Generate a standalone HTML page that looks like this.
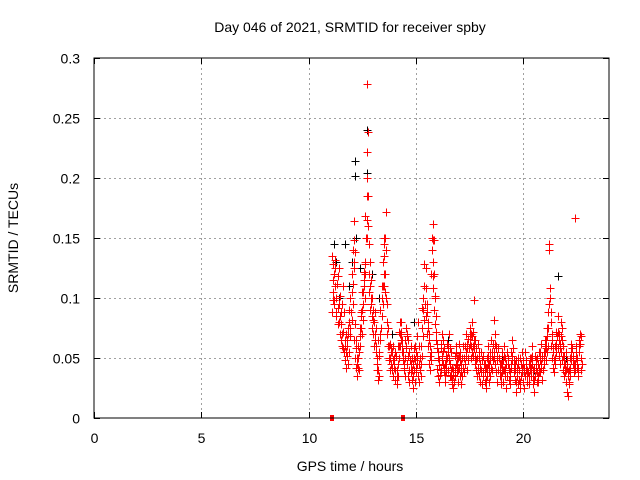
<!DOCTYPE html>
<html><head><meta charset="utf-8"><style>
body{margin:0;background:#fff}
svg{display:block;font-family:"Liberation Sans",sans-serif;font-size:14px}
</style></head><body>
<svg id="chart" width="640" height="480" viewBox="0 0 640 480">
<rect width="640" height="480" fill="#fff"/>
<text x="350" y="32" text-anchor="middle">Day 046 of 2021, SRMTID for receiver spby</text>
<text x="350" y="471" text-anchor="middle">GPS time / hours</text>
<text transform="translate(18,238) rotate(-90)" text-anchor="middle">SRMTID / TECUs</text>
<g id="grid"></g><g id="ticks"></g><g id="black"></g><g id="red"></g>
<rect x="94" y="58" width="515" height="360" fill="none" stroke="#000" stroke-width="1"/>
</svg>
<script>
const xTicks=[0,5,10,15,20];
const yTicks=[0,0.05,0.1,0.15,0.2,0.25,0.3];
const yTickLabels=["0","0.05","0.1","0.15","0.2","0.25","0.3"];
const redHours=[11.10,11.15,11.20,11.25,11.30,11.35,11.40,11.45,11.50,11.55,11.60,11.65,11.70,11.75,11.80,11.85,11.90,11.95,12.00,12.05,12.10,12.15,12.20,12.25,12.30,12.35,12.40,12.45,12.50,12.55,12.60,12.65,12.70,12.75,12.80,12.85,12.90,12.95,13.00,13.05,13.10,13.15,13.20,13.25,13.30,13.35,13.40,13.45,13.50,13.55,13.60,13.65,13.70,13.75,13.80,13.85,13.90,13.95,14.00,14.05,14.10,14.15,14.20,14.25,14.30,14.35,14.40,14.45,14.50,14.55,14.60,14.65,14.70,14.75,14.80,14.85,14.90,14.95,15.00,15.05,15.10,15.15,15.20,15.25,15.30,15.35,15.40,15.45,15.50,15.55,15.60,15.65,15.70,15.75,15.80,15.85,15.90,15.95,
16.00,16.05,16.10,16.15,16.20,16.25,16.30,16.35,16.40,16.45,16.50,16.55,16.60,16.65,16.70,16.75,16.80,16.85,16.90,16.95,17.00,17.05,17.10,17.15,17.20,17.25,17.30,17.35,17.40,17.45,17.50,17.55,17.60,17.65,17.70,17.75,17.80,17.85,17.90,17.95,18.00,18.05,18.10,18.15,18.20,18.25,18.30,18.35,18.40,18.45,18.50,18.55,18.60,18.65,18.70,18.75,18.80,18.85,18.90,18.95,19.00,19.05,19.10,19.15,19.20,19.25,19.30,19.35,19.40,19.45,19.50,19.55,19.60,19.65,19.70,19.75,19.80,19.85,19.90,19.95,20.00,20.05,20.10,20.15,20.20,20.25,20.30,20.35,20.40,20.45,20.50,20.55,20.60,20.65,20.70,20.75,20.80,20.85,20.90,20.95,21.00,21.05,21.10,21.15,21.20,21.25,21.30,21.35,21.40,21.45,21.50,21.55,21.60,21.65,21.70,21.75,21.80,21.85,21.90,21.95,22.00,22.05,22.10,22.15,22.20,22.25,22.30,22.35,22.40,22.45,22.50,22.55,22.60,22.65,22.70,
12.70,12.70,12.10,13.50,12.65,11.12,15.80];
const redValuesA=[.135,.128,.120,.110,.100,.118,.125,.085,.078,.095,.110,.088,.060,.055,.052,.070,.090,.100,.120,.140,.164,.138,.065,.050,.042,.040,.060,.075,.090,.105,.122,.168,.278,.238,.145,.130,.115,.100,.090,.080,.070,.060,.050,.040,.035,.065,.085,.110,.135,.150,.172,.095,.075,.060,.050,.045,.055,.060,.050,.040,.035,.045,.060,.070,.080,.065,.055,.045,.050,.060,.070,.065,.055,.045,.040,.035,.050,.060,.055,.045,.035,.030,.040,.060,.075,.090,.110,.125,.095,.080,.070,.060,.055,.140,.162,.120,.100,.085,
.062,.055,.048,.040,.052,.065,.058,.045,.038,.050,.060,.070,.045,.035,.028,.040,.052,.045,.038,.050,.062,.055,.045,.035,.042,.050,.060,.070,.058,.048,.062,.070,.080,.072,.098,.065,.058,.050,.040,.035,.045,.055,.048,.038,.030,.042,.050,.060,.045,.035,.042,.055,.062,.082,.070,.060,.048,.040,.035,.045,.055,.048,.040,.035,.045,.055,.050,.042,.035,.045,.052,.045,.040,.048,.035,.028,.040,.050,.045,.038,.030,.042,.055,.048,.035,.028,.040,.050,.045,.035,.042,.052,.048,.038,.030,.042,.055,.062,.050,.045,.055,.065,.075,.088,.145,.108,.080,.065,.055,.048,.060,.072,.085,.070,.062,.055,.048,.040,.035,.045,.055,.048,.038,.030,.042,.055,.050,.045,.167,.060,.050,.042,.055,.062,.050,
.185,.165,.148,.145,.128,.098,.148];
const redValuesB=[.088,.115,.098,.125,.085,.092,.080,.070,.065,.060,.072,.055,.048,.070,.065,.045,.080,.075,.082,.095,.065,.050,.042,.035,.060,.055,.075,.085,.105,.095,.110,.130,.222,.185,.120,.090,.100,.085,.070,.060,.088,.075,.040,.065,.055,.090,.110,.130,.150,.120,.100,.080,.060,.050,.062,.055,.040,.035,.045,.032,.028,.060,.072,.080,.065,.055,.048,.040,.065,.075,.045,.035,.030,.060,.050,.025,.040,.030,.042,.068,.080,.060,.050,.045,.092,.100,.128,.085,.070,.060,.045,.040,.120,.150,.130,.090,.078,.065,
.041,.035,.030,.058,.070,.045,.038,.030,.052,.062,.040,.048,.035,.055,.042,.025,.035,.060,.050,.030,.042,.035,.028,.050,.060,.038,.045,.052,.040,.066,.075,.050,.055,.060,.065,.045,.040,.035,.062,.050,.030,.040,.028,.052,.045,.025,.035,.045,.030,.055,.065,.040,.048,.050,.045,.038,.030,.058,.045,.028,.038,.030,.060,.050,.025,.035,.045,.032,.028,.055,.065,.038,.032,.022,.042,.050,.032,.025,.035,.055,.045,.025,.035,.040,.030,.045,.050,.035,.060,.028,.022,.035,.040,.030,.045,.055,.038,.042,.032,.055,.065,.048,.055,.060,.140,.100,.060,.050,.042,.038,.050,.062,.058,.052,.045,.080,.075,.060,.052,.038,.030,.022,.018,.040,.050,.062,.045,.038,.040,.050,.042,.035,.065,.070,.040,
.165,.150,.130,.110,.120,.105,.118];
const redValuesC=[.105,.095,.132,.088,.112,.078,.095,.102,.088,.070,.058,.065,.042,.060,.075,.055,.068,.088,.105,.112,.125,.078,.058,.045,.050,.068,.088,.070,.082,.115,.100,.150,.200,.160,.105,.110,.095,.075,.082,.065,.055,.045,.032,.052,.070,.075,.100,.095,.120,.105,.140,.070,.048,.040,.058,.042,.048,.042,.055,.052,.040,.035,.050,.060,.072,.060,.042,.035,.058,.068,.052,.040,.048,.038,.032,.045,.058,.048,.038,.052,.045,.040,.035,.052,.068,.082,.095,.108,.088,.075,.065,.052,.048,.108,.148,.102,.072,.058,
.050,.044,.036,.062,.048,.056,.042,.036,.045,.055,.050,.058,.040,.032,.036,.030,.042,.054,.044,.040,.052,.048,.038,.042,.050,.045,.055,.062,.050,.058,.068,.060,.068,.052,.058,.052,.048,.042,.055,.042,.038,.048,.035,.045,.038,.032,.042,.052,.038,.048,.052,.048,.055,.062,.058,.052,.040,.050,.040,.035,.045,.040,.052,.042,.035,.045,.040,.038,.042,.048,.058,.048,.045,.030,.038,.045,.040,.030,.042,.048,.038,.035,.045,.040,.038,.035,.045,.042,.052,.040,.032,.045,.050,.035,.038,.048,.045,.052,.040,.048,.060,.058,.068,.075,.095,.088,.070,.058,.048,.045,.055,.068,.072,.065,.058,.068,.065,.052,.045,.040,.042,.035,.028,.035,.048,.058,.052,.042,.045,.055,.048,.038,.060,.068,.045];
const blackHours=[11.20,11.70,12.15,12.15,12.20,12.70,12.70,12.40,11.40,13.30,17.70,21.60,12.00,11.90,14.90,16.50,19.00,20.50,22.00,13.90,11.30,12.95,13.60];
const blackValues=[.145,.145,.214,.202,.150,.240,.204,.125,.100,.100,.098,.118,.130,.110,.080,.065,.050,.040,.050,.070,.130,.120,.140];
const gapHours=[11.10,14.40];
const gapValues=[0,0];

const NS="http://www.w3.org/2000/svg";
const X0=94,X1=609,Y0=418,Y1=58,XMAX=24,YMAX=0.3;
function xs(h){return X0+(X1-X0)*h/XMAX;}
function ys(v){return Y0-(Y0-Y1)*v/YMAX;}
const grid=document.getElementById('grid'),ticks=document.getElementById('ticks');
function line(g,x1,y1,x2,y2,stroke,dash){const l=document.createElementNS(NS,'line');l.setAttribute('x1',x1);l.setAttribute('y1',y1);l.setAttribute('x2',x2);l.setAttribute('y2',y2);l.setAttribute('stroke',stroke);if(dash)l.setAttribute('stroke-dasharray',dash);g.appendChild(l);return l;}
xTicks.forEach(t=>{const x=Math.round(xs(t))+0.5;
 if(t>0){const gl=line(grid,x,Y1,x,Y0,'#a0a0a0','2,3');
 
 }
 line(ticks,x,Y0,x,Y0-6,'#000');line(ticks,x,Y1,x,Y1+6,'#000');
 const tx=document.createElementNS(NS,'text');tx.setAttribute('x',x);tx.setAttribute('y',Y0+25);tx.setAttribute('text-anchor','middle');tx.textContent=String(t);
 
 
 ticks.appendChild(tx);});
yTicks.forEach((t,i)=>{const y=Math.round(ys(t))+0.5;
 if(t>0&&t<YMAX){const gl=line(grid,X0,y,X1,y,'#a0a0a0','2,3');
 
 }
 line(ticks,X0,y,X0+6,y,'#000');line(ticks,X1,y,X1-6,y,'#000');
 const tx=document.createElementNS(NS,'text');tx.setAttribute('x',80);tx.setAttribute('y',y+5);tx.setAttribute('text-anchor','end');tx.textContent=yTickLabels[i];
 
 
 ticks.appendChild(tx);});
function plus(g,h,v,color,name){const x=Math.round(xs(h))+0.5,y=Math.round(ys(v))+0.5;
 const p=document.createElementNS(NS,'path');p.setAttribute('d',`M${x-4} ${y}H${x+4}M${x} ${y-4}V${y+4}`);p.setAttribute('stroke',color);p.setAttribute('fill','none');
 
 
 g.appendChild(p);}
const bg=document.getElementById('black'),rg=document.getElementById('red');
blackHours.forEach((h,i)=>plus(bg,h,blackValues[i],'#000','black-point'));
redHours.forEach((h,i)=>{plus(rg,h,redValuesA[i],'#f00','red-point');plus(rg,h,redValuesB[i],'#f00','red-point');
 if(i<redValuesC.length)plus(rg,h+0.025,redValuesC[i],'#f00','red-point');});
gapHours.forEach((h,i)=>{const r=document.createElementNS(NS,'rect');r.setAttribute('x',Math.round(xs(h))-2);r.setAttribute('y',Math.round(ys(gapValues[i]))-3);r.setAttribute('width',4);r.setAttribute('height',6);r.setAttribute('fill','#f00');
 
 
 rg.appendChild(r);});
</script>
</body></html>
